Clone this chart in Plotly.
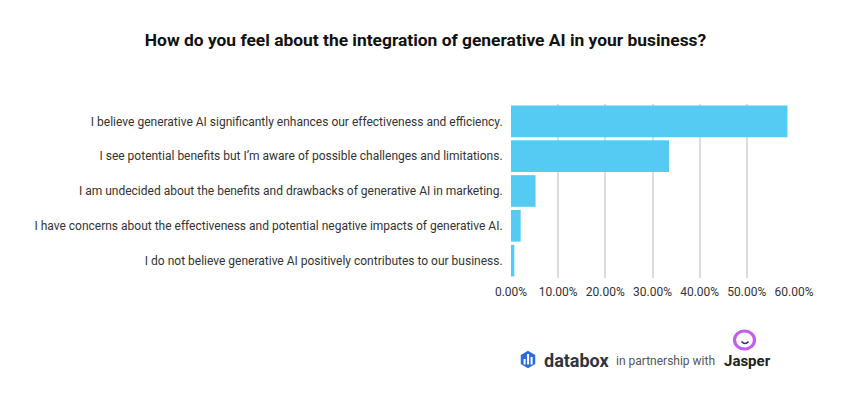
import math
import plotly.graph_objects as go

categories = [
    "I believe generative AI significantly enhances our effectiveness and efficiency.",
    "I see potential benefits but I\u2019m aware of possible challenges and limitations.",
    "I am undecided about the benefits and drawbacks of generative AI in marketing.",
    "I have concerns about the effectiveness and potential negative impacts of generative AI.",
    "I do not believe generative AI positively contributes to our business.",
]
values = [58.6, 33.5, 5.2, 2.05, 0.7]
tick_vals = [0, 10, 20, 30, 40, 50, 60]
tick_text = ["0.00%", "10.00%", "20.00%", "30.00%", "40.00%", "50.00%", "60.00%"]

W, H = 850, 400
OFF = 8  # page body margin
L, T = 511 - OFF, 104 - OFF
PW, PH = 283, 174
R, B = W - L - PW, H - T - PH


def px(x):
    return (x - OFF - L) / PW


def py(y):
    return (T + PH - (y - OFF)) / PH


fig = go.Figure(go.Bar(
    x=values, y=categories, orientation="h",
    marker=dict(color="#55CBF3", line=dict(width=0)),
    hoverinfo="skip",
))

fig.update_layout(
    width=W, height=H,
    margin=dict(l=L, r=R, t=T, b=B),
    paper_bgcolor="white", plot_bgcolor="white",
    font=dict(family="Roboto, Arial, sans-serif", size=12, color="#333333"),
    bargap=0.09,
    showlegend=False,
    title=dict(
        text="<b>How do you feel about the integration of generative AI in your business?</b>",
        x=(425.5 - OFF) / W, xanchor="center", y=1 - (40 - OFF) / H, yanchor="middle",
        xref="container", yref="container",
        font=dict(size=17.4, color="#111111"),
    ),
    xaxis=dict(
        range=[0, 60], tickvals=tick_vals, ticktext=tick_text,
        showgrid=True, gridcolor="#dcdcdc", gridwidth=1.5,
        zeroline=False, showline=False, fixedrange=True,
        ticks="outside", ticklen=3, tickcolor="rgba(0,0,0,0)",
    ),
    yaxis=dict(
        autorange="reversed", showgrid=False, zeroline=False, showline=False,
        ticks="outside", ticklen=5, tickcolor="rgba(0,0,0,0)",
    ),
)

# footer: databox logo
hx, hy, r = 528, 359.5, 8.8
pts = []
for k in range(6):
    a = math.radians(90 + 60 * k)
    pts.append((hx + r * math.cos(a) * 0.95, hy - r * math.sin(a)))
path = "M " + " L ".join(f"{px(x)},{py(y)}" for x, y in pts) + " Z"
shapes = [dict(type="path", xref="paper", yref="paper", path=path,
               fillcolor="#2A6FD6", line=dict(width=0))]
for bx, btop in [(523.6, 359), (527.1, 354), (530.6, 357)]:
    shapes.append(dict(type="rect", xref="paper", yref="paper",
                       x0=px(bx), x1=px(bx + 2.0), y0=py(364.5), y1=py(btop),
                       fillcolor="white", line=dict(width=0)))
# jasper logo
shapes.append(dict(type="circle", xref="paper", yref="paper",
                   x0=px(734.5), x1=px(754.5), y0=py(349), y1=py(331),
                   fillcolor="white", line=dict(color="#C25CF2", width=3.2)))
shapes.append(dict(type="path", xref="paper", yref="paper",
                   path=f"M {px(741.5)},{py(341.5)} Q {px(745)},{py(345.5)} {px(748.5)},{py(341.5)}",
                   line=dict(color="#3B2A8C", width=1.5)))
fig.update_layout(shapes=shapes)

fig.add_annotation(x=px(541.5), y=py(360), xref="paper", yref="paper",
                   text="<b>databox</b>", showarrow=False, xanchor="left", yanchor="middle",
                   font=dict(size=18, color="#2F3441", family="Roboto, Arial, sans-serif"))
fig.add_annotation(x=px(614), y=py(361), xref="paper", yref="paper",
                   text="in partnership with", showarrow=False, xanchor="left", yanchor="middle",
                   font=dict(size=12, color="#555555", family="Roboto, Arial, sans-serif"))
fig.add_annotation(x=px(722), y=py(360.5), xref="paper", yref="paper",
                   text="<b>Jasper</b>", showarrow=False, xanchor="left", yanchor="middle",
                   font=dict(size=15, color="#222222", family="Roboto, Arial, sans-serif"))

fig.write_html("out.html")
